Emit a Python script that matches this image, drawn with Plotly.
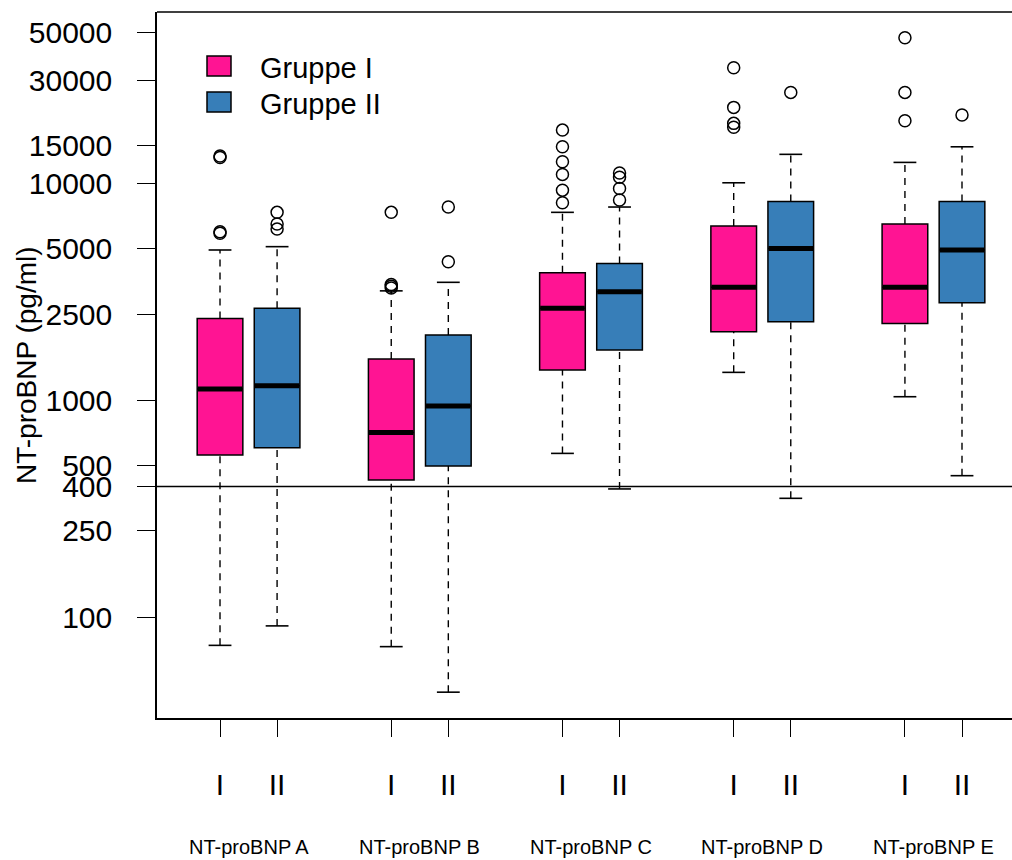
import plotly.graph_objects as go

# NT-proBNP concentrations (pg/ml) per assay, two patient groups
assays = ["NT-proBNP A", "NT-proBNP B", "NT-proBNP C", "NT-proBNP D", "NT-proBNP E"]
group_names = ["Gruppe I", "Gruppe II"]
group_ticks = ["I", "II"]

# Gruppe I box statistics
q1_g1 = [560, 429, 1380, 2073, 2265]
median_g1 = [1127, 711, 2658, 3322, 3322]
q3_g1 = [2388, 1551, 3882, 6368, 6510]
whisker_lo_g1 = [74, 73, 569, 1346, 1039]
whisker_hi_g1 = [4940, 3200, 7370, 10090, 12530]
outliers_g1 = [
    [5900, 6000, 13200, 13400],
    [3300, 3360, 3420, 7370],
    [8160, 9330, 11030, 12620, 14790, 17660],
    [18190, 18970, 22480, 34260],
    [19500, 26360, 47100],
]

# Gruppe II box statistics
q1_g2 = [604, 498, 1706, 2306, 2822]
median_g2 = [1169, 941, 3170, 5024, 4938]
q3_g2 = [2658, 2001, 4285, 8280, 8280]
whisker_lo_g2 = [91, 45, 390, 353, 449]
whisker_hi_g2 = [5118, 3504, 7798, 13650, 14790]
outliers_g2 = [
    [6170, 6510, 7370],
    [4360, 7800],
    [8400, 9500, 10700, 11200],
    [26360],
    [20730],
]

reference_level = 400
y_tick_values = [100, 250, 400, 500, 1000, 2500, 5000, 10000, 15000, 30000, 50000]

colors = ["#FF1493", "#377EB8"]
FONT = "Liberation Sans, Arial, sans-serif"
BOX_W = 0.8
CAP_HALF = 0.2

groups = [
    (q1_g1, median_g1, q3_g1, whisker_lo_g1, whisker_hi_g1, outliers_g1),
    (q1_g2, median_g2, q3_g2, whisker_lo_g2, whisker_hi_g2, outliers_g2),
]

fig = go.Figure()
tick_pos, tick_txt = [], []

for g, (q1, med, q3, lo, hi, outs) in enumerate(groups):
    for i in range(len(assays)):
        x = 3 * i + 1 + g
        tick_pos.append(x)
        tick_txt.append(group_ticks[g])
        # dashed whiskers
        for a, b in ((lo[i], q1[i]), (q3[i], hi[i])):
            fig.add_trace(go.Scatter(
                x=[x, x], y=[a, b], mode="lines",
                line=dict(color="black", width=1.4, dash="7px,6px"),
                showlegend=False, hoverinfo="skip"))
        # staples
        for v in (lo[i], hi[i]):
            fig.add_trace(go.Scatter(
                x=[x - CAP_HALF, x + CAP_HALF], y=[v, v], mode="lines",
                line=dict(color="black", width=1.6),
                showlegend=False, hoverinfo="skip"))
        # box body
        fig.add_trace(go.Box(
            x=[x], q1=[q1[i]], median=[med[i]], q3=[q3[i]],
            lowerfence=[q1[i]], upperfence=[q3[i]],
            width=BOX_W, fillcolor=colors[g],
            line=dict(color="black", width=1.5),
            boxpoints=False, showlegend=False, name=group_names[g]))
        # thick median bar
        fig.add_trace(go.Scatter(
            x=[x - BOX_W / 2 + 0.01, x + BOX_W / 2 - 0.01], y=[med[i], med[i]],
            mode="lines", line=dict(color="black", width=5),
            showlegend=False, hoverinfo="skip"))
        # outliers
        fig.add_trace(go.Scatter(
            x=[x] * len(outs[i]), y=outs[i], mode="markers",
            marker=dict(symbol="circle-open", size=12, color="black",
                        line=dict(width=1.5)),
            showlegend=False, hoverinfo="skip"))

# plot frame: left, bottom (axes) and top line
L, R, T, B = 157, 0, 12, 142
W, H = 1012, 860
pw, ph = W - L - R, H - T - B


def px_x(p):
    return (p - L) / pw


def px_y(p):
    return (H - B - p) / ph


shapes = [
    dict(type="line", xref="paper", yref="paper", x0=0, x1=1, y0=1, y1=1,
         line=dict(color="black", width=1.5)),
    dict(type="line", xref="paper", yref="y", x0=0, x1=1,
         y0=reference_level, y1=reference_level,
         line=dict(color="black", width=1.5)),
]

annotations = []
# legend swatches and labels
for g in range(2):
    top = 56 + g * 36
    shapes.append(dict(type="rect", xref="paper", yref="paper",
                       x0=px_x(207), x1=px_x(231), y0=px_y(top + 20), y1=px_y(top),
                       fillcolor=colors[g], line=dict(color="black", width=1.5)))
    annotations.append(dict(xref="paper", yref="paper", x=px_x(258), y=px_y(top + 12),
                            text=group_names[g], showarrow=False, xanchor="left",
                            yanchor="middle", font=dict(family=FONT, size=29, color="black")))

# assay names under each pair
for i, name in enumerate(assays):
    annotations.append(dict(xref="x", yref="paper", x=3 * i + 1.5, y=px_y(847),
                            text=name, showarrow=False, xanchor="center", yanchor="middle",
                            font=dict(family=FONT, size=20, color="black")))

# y axis title
annotations.append(dict(xref="paper", yref="paper", x=px_x(26), y=0.5,
                        text="NT-proBNP (pg/ml)", textangle=-90, showarrow=False,
                        xanchor="center", yanchor="middle",
                        font=dict(family=FONT, size=28, color="black")))

fig.update_layout(
    width=W, height=H,
    margin=dict(l=L, r=R, t=T, b=B, pad=0),
    plot_bgcolor="white", paper_bgcolor="white",
    showlegend=False,
    shapes=shapes, annotations=annotations,
    xaxis=dict(range=[-0.104, 14.876], tickvals=tick_pos, ticktext=tick_txt,
               showgrid=False, zeroline=False, showline=True, linecolor="black",
               linewidth=1.5, ticks="outside", ticklen=17, tickwidth=1.4,
               tickcolor="black", ticklabelstandoff=22,
               tickfont=dict(family=FONT, size=30, color="black")),
    yaxis=dict(type="log", range=[1.534, 4.792], tickvals=y_tick_values,
               ticktext=[str(v) for v in y_tick_values],
               showgrid=False, zeroline=False, showline=True, linecolor="black",
               linewidth=1.5, ticks="outside", ticklen=18, tickwidth=1.4,
               tickcolor="black", ticklabelstandoff=19,
               tickfont=dict(family=FONT, size=30, color="black")),
)

fig.write_html("out.html")
